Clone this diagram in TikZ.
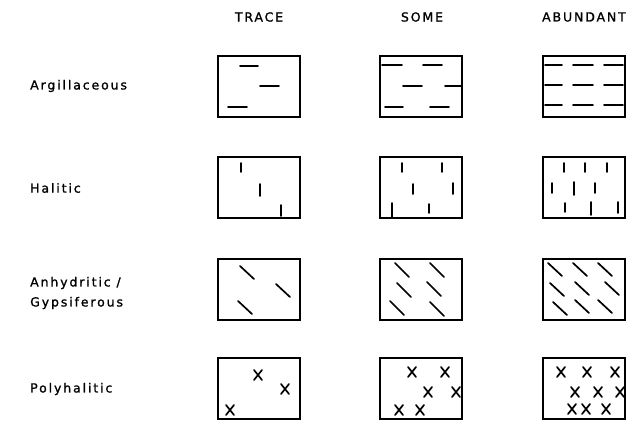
\documentclass[tikz,border=0pt]{standalone}
\usepackage{fontspec}
\newfontfamily\leroy[LetterSpace=15,FakeBold=1.2]{DejaVu Sans}
\usetikzlibrary{positioning}

\begin{document}
\begin{tikzpicture}[x=1pt, y=-1pt,
  every node/.style={font=\leroy\fontsize{12.5}{20}\selectfont, inner sep=0pt},
  head/.style={anchor=center},
  rowname/.style={anchor=west, align=left},
  sample/.style={line width=1.5pt},
  grain/.style={line width=1.7pt, line cap=round},
]
\useasboundingbox (0,0) rectangle (636,420);

% Column heads
\node[head] (trace) at (259,17) {TRACE};
\node[head] (some) at (422,17) {SOME};
\node[head] (abundant) at (584,17) {ABUNDANT};

% Row names
\node[rowname] (argil) at (30,86) {Argillaceous};
\node[rowname] (halit) at (30,188) {Halitic};
\node[rowname] (anhyd) at (30,293) {Anhydritic /\\Gypsiferous};
\node[rowname] (polyh) at (30,389) {Polyhalitic};

% Argillaceous
\begin{scope}[shift={(218,56)}]
  \draw[sample] (0,0) rectangle (82,61);
  \foreach \a/\b/\y in {22/40/10, 42/61/30, 10/29/51}
    \draw[grain] (\a,\y) -- (\b,\y);
\end{scope}
\begin{scope}[shift={(380,56)}]
  \draw[sample] (0,0) rectangle (82,61);
  \foreach \a/\b/\y in {2/22/9, 43/62/9, 23/42/30, 65/82/30, 5/23/51, 50/69/51}
    \draw[grain] (\a,\y) -- (\b,\y);
\end{scope}
\begin{scope}[shift={(543,56)}]
  \draw[sample] (0,0) rectangle (82,61);
  \foreach \y in {9,29,49}
    \foreach \a/\b in {2/19, 30/50, 61/80}
      \draw[grain] (\a,\y) -- (\b,\y);
\end{scope}

% Halitic
\begin{scope}[shift={(218,157)}]
  \draw[sample] (0,0) rectangle (82,61);
  \foreach \x/\a/\b in {23/6/15, 42/27/39, 63/48/59}
    \draw[grain] (\x,\a) -- (\x,\b);
\end{scope}
\begin{scope}[shift={(380,157)}]
  \draw[sample] (0,0) rectangle (82,61);
  \foreach \x/\a/\b in {22/6/15, 62/6/15, 33/27/37, 73/26/37, 12/46/61, 49/47/56}
    \draw[grain] (\x,\a) -- (\x,\b);
\end{scope}
\begin{scope}[shift={(543,157)}]
  \draw[sample] (0,0) rectangle (82,61);
  \foreach \x/\a/\b in {21/6/15, 42/6/15, 64/6/15, 9/26/36, 31/25/38, 52/26/36,
                        22/46/55, 48/45/58, 75/45/56}
    \draw[grain] (\x,\a) -- (\x,\b);
\end{scope}

% Anhydritic / Gypsiferous
\begin{scope}[shift={(218,259)}]
  \draw[sample] (0,0) rectangle (82,61);
  \foreach \x/\y in {22/7, 58/25, 20/42}
    \draw[grain] (\x,\y) -- ++(14,13);
\end{scope}
\begin{scope}[shift={(380,259)}]
  \draw[sample] (0,0) rectangle (82,61);
  \foreach \x/\y in {15/4, 50/4, 17/24, 47/23, 10/42, 50/43}
    \draw[grain] (\x,\y) -- ++(14,14);
\end{scope}
\begin{scope}[shift={(543,259)}]
  \draw[sample] (0,0) rectangle (82,61);
  \foreach \x/\y in {5/4, 30/4, 55/4, 7/24, 32/23, 62/23, 10/43, 32/41, 55/41}
    \draw[grain] (\x,\y) -- ++(14,13);
\end{scope}

% Polyhalitic
\begin{scope}[shift={(218,358)}]
  \draw[sample] (0,0) rectangle (82,61);
  \foreach \x/\y in {40/17, 67/31, 12/52}
    \draw[grain] (\x-4,\y-5) -- (\x+4,\y+5) (\x-4,\y+5) -- (\x+4,\y-5);
\end{scope}
\begin{scope}[shift={(380,358)}]
  \draw[sample] (0,0) rectangle (82,61);
  \foreach \x/\y in {32/14, 65/14, 48/34, 76/34, 19/52, 40/52}
    \draw[grain] (\x-4,\y-5) -- (\x+4,\y+5) (\x-4,\y+5) -- (\x+4,\y-5);
\end{scope}
\begin{scope}[shift={(543,358)}]
  \draw[sample] (0,0) rectangle (82,61);
  \foreach \x/\y in {18/14, 44/14, 72/14, 32/34, 55/34, 77/34, 29/51, 43/51, 63/51}
    \draw[grain] (\x-4,\y-5) -- (\x+4,\y+5) (\x-4,\y+5) -- (\x+4,\y-5);
\end{scope}

\end{tikzpicture}
\end{document}
